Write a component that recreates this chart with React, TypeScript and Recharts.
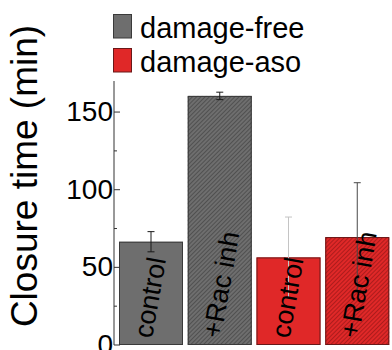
import { BarChart, Bar, XAxis, YAxis } from "recharts";

const groups = ["damage-free", "damage-free", "damage-aso", "damage-aso"];
const treatments = ["control", "+Rac inh", "control", "+Rac inh"];
const closureMeans = [66.5, 160.4, 56.4, 69.5];
const closureErrors = [6.5, 2.4, 26, 35];
const legendGroups = ["damage-free", "damage-aso"];
const yTicks = [0, 25, 50, 75, 100, 125, 150];
const yLabelled = [0, 50, 100, 150];
const topTicks = [1, 2, 3, 4];

const FONT = "'Liberation Sans', Arial, Helvetica, sans-serif";
const AXIS = "#333";

const groupStyle: Record<string, { fill: string; hatch: string; edge: string }> = {
  "damage-free": { fill: "#6e6e6e", hatch: "#3c3c3c", edge: "#3a3a3a" },
  "damage-aso": { fill: "#e02828", hatch: "#8a1414", edge: "#6a1818" },
};
const errorColors = ["#1a1a1a", "#1a1a1a", "#c4c4c4", "#484848"];

const bars = treatments.map((treatment, i) => ({
  key: `${groups[i]}-${i}`,
  group: groups[i],
  treatment,
  mean: closureMeans[i],
  err: closureErrors[i],
  hatched: treatment !== "control",
  errColor: errorColors[i],
}));

function ClosureBar(props: any) {
  const { x, y, width, height, payload } = props;
  const style = groupStyle[payload.group];
  const base = y + height;
  const perUnit = height / payload.mean;
  const cx = x + width / 2;
  const hi = base - (payload.mean + payload.err) * perUnit;
  const lo = base - (payload.mean - payload.err) * perUnit;
  return (
    <g>
      <rect x={x} y={y} width={width} height={height} fill={style.fill} />
      {payload.hatched && (
        <rect x={x} y={y} width={width} height={height} fill={`url(#hatch-${payload.group})`} />
      )}
      <rect x={x + 0.5} y={y + 0.5} width={width - 1} height={height - 1} fill="none" stroke={style.edge} />
      <g stroke={payload.errColor} strokeWidth={1}>
        <line x1={cx} x2={cx} y1={hi} y2={lo} />
        <line x1={cx - 3.5} x2={cx + 3.5} y1={hi} y2={hi} />
        <line x1={cx - 3.5} x2={cx + 3.5} y1={lo} y2={lo} />
      </g>
      <text
        transform={`translate(${cx + 1},${base - 6}) rotate(-80)`}
        fontSize={27}
        fontFamily={FONT}
        fill="#000"
      >
        {payload.treatment}
      </text>
    </g>
  );
}

function LeftTick({ x, y, payload }: any) {
  const major = yLabelled.includes(payload.value);
  return (
    <g>
      <line x1={x} x2={x + (major ? 6 : 3)} y1={y} y2={y} stroke={AXIS} />
      {major && (
        <text x={x - 1} y={y + 9} textAnchor="end" fontSize={28} fontFamily={FONT} fill="#000">
          {payload.value}
        </text>
      )}
    </g>
  );
}

function RightTick({ x, y, payload }: any) {
  const major = yLabelled.includes(payload.value);
  return <line x1={x} x2={x - (major ? 6 : 3)} y1={y} y2={y} stroke={AXIS} />;
}

function TopTick({ x, y }: any) {
  return <line x1={x} x2={x} y1={y} y2={y + 5} stroke={AXIS} />;
}

function YTitle() {
  return (
    <text
      transform="translate(37,176) rotate(-90)"
      textAnchor="middle"
      fontSize={37}
      fontFamily={FONT}
      fill="#000"
    >
      Closure time (min)
    </text>
  );
}

export default function App() {
  return (
    <div style={{ position: "absolute", left: 0, top: 0, width: 392, height: 350, background: "#fff", fontFamily: FONT }}>
      <svg width={0} height={0} style={{ position: "absolute" }}>
        <defs>
          {legendGroups.map((g) => (
            <pattern
              key={g}
              id={`hatch-${g}`}
              patternUnits="userSpaceOnUse"
              width={3}
              height={3}
              patternTransform="rotate(45)"
            >
              <line x1={0} x2={0} y1={0} y2={3} stroke={groupStyle[g].hatch} strokeWidth={1.2} />
            </pattern>
          ))}
        </defs>
      </svg>
      <BarChart
        width={392}
        height={350}
        data={bars}
        margin={{ top: 81, right: 0, bottom: 5, left: 0 }}
        barSize={64}
      >
        <XAxis
          dataKey="key"
          height={0}
          tick={false}
          tickLine={false}
          axisLine={{ stroke: AXIS }}
          padding={{ left: 3, right: 0 }}
        />
        <XAxis
          xAxisId="top"
          orientation="top"
          type="number"
          domain={[0, 5]}
          ticks={topTicks}
          height={0}
          tickSize={0}
          tickMargin={0}
          tickLine={false}
          tick={<TopTick />}
          axisLine={{ stroke: AXIS }}
        />
        <YAxis
          width={114}
          domain={[0, 170]}
          ticks={yTicks}
          interval={0}
          tickSize={0}
          tickMargin={0}
          tickLine={false}
          tick={<LeftTick />}
          axisLine={{ stroke: AXIS }}
          label={<YTitle />}
        />
        <YAxis
          yAxisId="right"
          orientation="right"
          width={0}
          domain={[0, 170]}
          ticks={yTicks}
          interval={0}
          tickSize={0}
          tickMargin={0}
          tickLine={false}
          tick={<RightTick />}
          axisLine={{ stroke: AXIS }}
        />
        <Bar dataKey="mean" shape={<ClosureBar />} isAnimationActive={false} />
      </BarChart>
      <svg width={392} height={80} style={{ position: "absolute", left: 0, top: 0, pointerEvents: "none" }}>
        {legendGroups.map((g, i) => (
          <g key={g}>
            <rect
              x={113.5}
              y={14.5 + i * 34}
              width={18}
              height={23.5}
              fill={groupStyle[g].fill}
              stroke={groupStyle[g].edge}
            />
            <text x={140} y={38 + i * 34} fontSize={29} fontFamily={FONT} fill="#000">
              {g}
            </text>
          </g>
        ))}
      </svg>
    </div>
  );
}
